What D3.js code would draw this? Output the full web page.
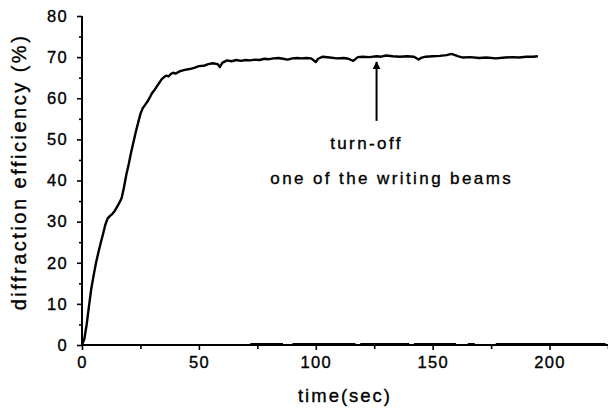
<!DOCTYPE html>
<html>
<head>
<meta charset="utf-8">
<script src="https://cdn.jsdelivr.net/npm/d3@7"></script>
<style>
  html, body { margin: 0; padding: 0; background: #fff; }
  svg { display: block; }
  text { font-family: "Liberation Sans", Arial, sans-serif; fill: #000; stroke: #000; stroke-width: 0.35px; }
</style>
</head>
<body>
<svg id="chart" width="608" height="408"></svg>
<script>
// ---- data ----
const times = [0,1,2,3,4,5,6,7,8,9,10,11,12,13,14,15,16,17,18,19,20,21,22,23,24,25,26,27,28,29,30,31,32,33,34,35,36,37,38,39,40,42,44,46,48,50,52,54,56,58,59,60,62,64,66,68,70,72,74,76,78,80,82,84,86,88,90,92,94,96,98,100,101,103,106,109,112,114,116,118,120,123,126,128,130,133,136,139,142,144,145,147,150,153,156,158,159,161,163,166,170,173,177,181,184,187,190,193,195];
const efficiency = [0,1.5,5,9.5,13.8,17,20,22.5,24.8,27,29.3,30.8,31.4,31.9,32.6,33.6,34.6,35.8,38.5,41.5,44,46.8,49.3,51.8,54,56.2,57.6,58.4,59.2,60.2,61.3,62,62.9,63.7,64.6,65.1,65.5,65.3,65.9,66.2,66,66.6,66.9,67.1,67.4,67.8,67.9,68.3,68.5,68.3,67.6,68.6,69.2,69.0,69.3,69.1,69.3,69.2,69.4,69.3,69.6,69.5,69.7,69.8,69.6,69.4,69.7,69.8,69.7,69.8,69.7,68.8,69.6,70.1,69.9,69.7,69.8,69.6,69.1,70.0,70.1,70.0,70.2,70.1,70.4,70.2,70.1,70.2,70.1,69.4,69.8,70.1,70.2,70.3,70.5,70.8,70.6,70.2,69.9,70.0,69.8,69.9,69.7,69.9,70.0,69.9,70.1,70.1,70.2];
// baseline trace segments lying on zero (start, end times)
const baselineSegments = [[72,86],[90,117],[119,140],[142,160],[165,168],[177,224]];
const xTicks = [0,50,100,150,200];
const xMinorTicks = [25,75,125,175,225];
const yTicks = [0,10,20,30,40,50,60,70,80];
const yMinorTicks = [5,15,25,35,45,55,65,75];
const xLabel = "time(sec)";
const yLabel = "diffraction efficiency (%)";
const arrowTime = 126, arrowFrom = 54.5, arrowTo = 68.8;
const note1 = {text: "turn-off", t: 121.7, v: 49.1};
const note2 = {text: "one of the writing beams", t: 132.5, v: 40.6};

// ---- layout ----
const svg = d3.select("#chart");
const mLeft = 82, mRight = 608, mTop = 16, mBottom = 345;
const x = d3.scaleLinear().domain([0, 225]).range([mLeft, mRight]);
const y = d3.scaleLinear().domain([0, 80]).range([mBottom, mTop]);

// baseline trace
svg.append("g").selectAll("line").data(baselineSegments).join("line")
  .attr("x1", d => x(d[0])).attr("x2", d => x(d[1]))
  .attr("y1", y(0) - 1).attr("y2", y(0) - 1)
  .attr("stroke", "#000").attr("stroke-width", 2);

// axes
const xAxis = svg.append("g").attr("transform", `translate(0,${mBottom})`)
  .call(d3.axisBottom(x).tickValues(xTicks).tickSize(5).tickPadding(6).tickFormat(d3.format("d")));
const xMinor = svg.append("g").attr("transform", `translate(0,${mBottom})`)
  .call(d3.axisBottom(x).tickValues(xMinorTicks).tickSize(4).tickFormat(""));
const yAxis = svg.append("g").attr("transform", `translate(${mLeft},0)`)
  .call(d3.axisLeft(y).tickValues(yTicks).tickSize(5).tickPadding(9).tickFormat(d3.format("d")));
const yMinor = svg.append("g").attr("transform", `translate(${mLeft},0)`)
  .call(d3.axisLeft(y).tickValues(yMinorTicks).tickSize(3).tickFormat(""));

[xAxis, xMinor, yAxis, yMinor].forEach(g => {
  g.select(".domain").attr("stroke", "#000").attr("stroke-width", 2);
  g.selectAll(".tick line").attr("stroke", "#000").attr("stroke-width", 1.6);
  g.selectAll(".tick text").attr("font-family", "Liberation Sans, Arial, sans-serif")
    .attr("font-size", 16.5).attr("letter-spacing", "1.3px").attr("fill", "#000");
});
xMinor.select(".domain").attr("stroke", "none");
yMinor.select(".domain").attr("stroke", "none");
xAxis.select(".domain").attr("d", `M${mLeft},0H${mRight}`);
yAxis.select(".domain").attr("d", `M0,${mTop}V${mBottom}`);

// data line
const line = d3.line().x((d, i) => x(times[i])).y(d => y(d));
svg.append("path").datum(efficiency)
  .attr("d", line).attr("fill", "none")
  .attr("stroke", "#000").attr("stroke-width", 2.4).attr("stroke-linejoin", "round");

// arrow
svg.append("defs").append("marker").attr("id", "ah")
  .attr("viewBox", "0 0 10 10").attr("refX", 9).attr("refY", 5)
  .attr("markerWidth", 4).attr("markerHeight", 5).attr("orient", "auto")
  .attr("markerUnits", "strokeWidth")
  .append("path").attr("d", "M0,0L10,5L0,10Z").attr("fill", "#000");
svg.append("line")
  .attr("x1", x(arrowTime)).attr("x2", x(arrowTime))
  .attr("y1", y(arrowFrom)).attr("y2", y(arrowTo))
  .attr("stroke", "#000").attr("stroke-width", 2).attr("marker-end", "url(#ah)");

// annotations
[note1, note2].forEach(n => {
  svg.append("text").attr("x", x(n.t)).attr("y", y(n.v))
    .attr("text-anchor", "middle").attr("dominant-baseline", "central")
    .attr("font-size", 17).attr("letter-spacing", "2.4px").text(n.text);
});

// axis titles
svg.append("text").attr("x", x(112.5)).attr("y", 395)
  .attr("text-anchor", "middle").attr("dominant-baseline", "central")
  .attr("font-size", 18.5).attr("letter-spacing", "2px").text(xLabel);
svg.append("text")
  .attr("transform", `translate(19,172) rotate(-90)`)
  .attr("text-anchor", "middle").attr("dominant-baseline", "central")
  .attr("font-size", 20).attr("letter-spacing", "2.5px").text(yLabel);
</script>
</body>
</html>
